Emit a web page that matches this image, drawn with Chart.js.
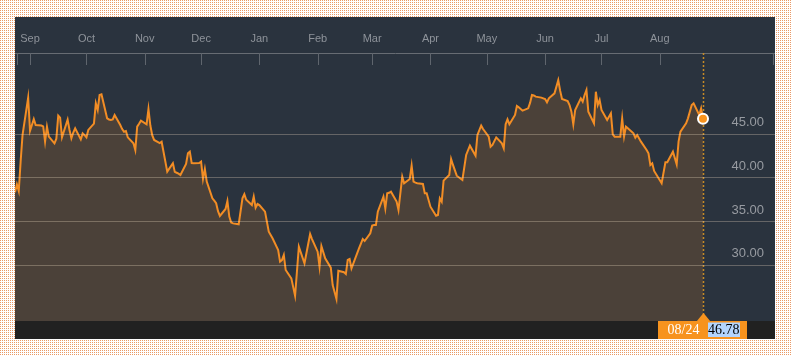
<!DOCTYPE html>
<html>
<head>
<meta charset="utf-8">
<script src="https://cdn.jsdelivr.net/npm/chart.js@4.4.1/dist/chart.umd.min.js"></script>
<style>
html,body{margin:0;padding:0;}
body{width:791px;height:355px;overflow:hidden;position:relative;
  background-color:#e99a66;
  background-image:linear-gradient(90deg, transparent 1px, #ffffff 1px), linear-gradient(180deg, transparent 1px, #ffffff 1px);
  background-size:2px 2px;}
#wrap{position:absolute;left:15px;top:17px;width:760px;height:322px;background:#2a333e;}
canvas{display:block;}
</style>
</head>
<body>
<div id="wrap"><canvas id="c" width="760" height="322"></canvas></div>
<script>
// Day offsets counted from the first session, 2015-08-24 (Mon)
const START_DATE = '2015-08-24';
const tradingDays = [
  0,1,2,3,4,
  7,8,9,10,11,
  14,15,16,17,18,
  21,22,23,24,25,
  28,29,30,31,32,
  35,36,37,38,39,
  42,43,44,45,46,
  49,50,51,52,53,
  56,57,58,59,60,
  63,64,65,66,67,
  70,71,72,73,74,
  77,78,81,
  84,85,86,87,88,
  91,92,93,94,95,
  98,99,100,101,102,
  105,106,107,108,109,
  112,113,114,115,116,
  119,121,122,123,
  126,127,128,129,130,
  133,135,137,
  140,141,142,143,144,
  147,149,151,
  154,157,158,
  161,162,163,165,
  168,169,171,172,
  175,176,177,178,179,
  182,183,185,186,
  189,190,191,192,193,
  196,197,198,199,200,
  203,204,206,207,
  210,211,212,213,214,
  217,218,219,221,
  224,225,226,227,228,
  231,232,233,235,
  238,240,242,
  245,246,248,249,
  252,253,254,256,
  259,260,261,262,263,
  266,267,268,270,
  273,274,275,276,277,
  280,282,283,284,
  287,289,290,291,
  294,295,296,297,298,
  301,302,303,304,305,
  308,309,310,311,312,
  315,317,318,319,
  322,323,324,325,326,
  329,330,331,333,
  336,337,338,339,340,
  344,346,347,
  350,352,353,354,
  357,358,360,361,
  364,365,366
];
const closePrices = [
  38.36,39.27,38.5,41.9,44.9,
  49.2,45.4,46.06,46.75,46.06,
  46.0,45.9,44.15,45.87,44.73,
  43.97,44.5,47.13,46.9,44.65,
  46.67,45.5,44.54,45.2,45.68,
  44.42,45.1,44.9,44.65,45.5,
  46.22,48.55,47.78,49.5,49.58,
  46.83,46.7,46.64,46.7,47.21,
  46.06,45.6,45.3,45.38,44.65,
  43.97,43.2,45.87,46.2,46.56,
  46.14,47.9,46.0,44.9,44.35,
  44.0,44.15,40.72,
  41.68,40.7,40.6,40.5,40.34,
  41.6,42.82,43.0,41.7,41.68,
  41.7,41.86,39.88,41.03,39.58,
  37.67,37.4,37.1,36.2,35.65,
  36.45,37.36,35.57,34.9,34.8,
  34.7,37.67,38.13,37.5,
  36.9,37.86,36.6,37.02,36.9,
  36.14,33.85,33.09,
  31.75,30.42,30.6,31.18,29.46,
  28.5,26.5,32.13,
  30.23,33.58,33.0,
  31.56,29.84,32.2,30.8,
  29.73,27.74,26.14,29.38,
  29.2,29.0,30.61,30.72,29.65,
  31.37,31.94,33.0,32.78,
  33.66,34.54,34.6,34.6,36.14,
  37.86,36.52,38.24,38.3,38.43,
  37.29,36.33,40.15,39.39,
  39.88,41.41,39.58,39.46,39.4,
  39.31,38.24,38.24,36.71,
  35.68,35.76,37.67,37.29,39.69,
  40.34,42.17,41.49,40.26,
  39.77,42.63,43.7,
  42.55,44.92,45.99,45.6,
  44.73,43.58,43.78,44.65,
  43.97,43.4,46.14,46.71,46.14,
  47.21,48.24,48.09,47.71,
  47.97,48.6,49.5,49.45,49.31,
  49.2,49.04,48.66,49.12,
  49.69,51.2,50.0,49.04,
  48.81,48.35,47.59,46.14,47.78,
  49.12,48.74,49.5,50.07,47.59,
  46.26,49.88,48.35,48.93,47.78,
  46.64,47.4,45.0,44.73,
  44.73,46.83,44.73,45.87,45.68,
  45.11,44.62,44.92,44.16,
  43.2,42.82,41.48,41.68,40.8,
  39.39,41.79,41.79,
  43.01,41.56,44.16,45.3,
  46.26,46.83,48.35,48.55,
  47.21,47.97,46.78
];
// Month starts as day offsets from START_DATE
const monthTicks  = [8, 38, 69, 99, 130, 161, 190, 221, 251, 282, 312, 343];
const monthLabels = ['Sep','Oct','Nov','Dec','Jan','Feb','Mar','Apr','May','Jun','Jul','Aug'];
const priceTicks  = [30, 35, 40, 45];

const n = tradingDays.length;
const lastDay = tradingDays[n - 1];
const lastPrice = closePrices[n - 1];
const lastDate = new Date(Date.parse(START_DATE + 'T00:00:00Z') + lastDay * 86400000);
const dateLabel = String(lastDate.getUTCMonth() + 1).padStart(2, '0') + '/' + String(lastDate.getUTCDate()).padStart(2, '0');

const points = tradingDays.map((d, i) => ({ x: d, y: closePrices[i] }));

const decor = {
  id: 'decor',
  beforeDatasetsDraw(chart) {
    const { ctx, chartArea, scales: { x } } = chart;
    ctx.save();
    ctx.strokeStyle = '#5f656d';
    ctx.lineWidth = 1;
    const xs = monthTicks.map(d => x.getPixelForValue(d));
    xs.push(chartArea.left + 1.5, chartArea.right - 2.5);
    xs.forEach(px => {
      const a = Math.round(px) + 0.5;
      ctx.beginPath();
      ctx.moveTo(a, chartArea.top);
      ctx.lineTo(a, chartArea.top + 12);
      ctx.stroke();
    });
    const lx = Math.round(x.getPixelForValue(lastDay)) + 0.5;
    ctx.strokeStyle = '#c58a26';
    ctx.lineWidth = 1.5;
    ctx.setLineDash([2, 2]);
    ctx.beginPath();
    ctx.moveTo(lx, chartArea.top);
    ctx.lineTo(lx, chartArea.bottom);
    ctx.stroke();
    ctx.restore();
  },
  afterDraw(chart) {
    const { ctx, chartArea, width, height, scales: { x } } = chart;
    const px = Math.round(x.getPixelForValue(lastDay)) + 0.5;
    const b = chartArea.bottom;
    ctx.save();
    ctx.fillStyle = '#212121';
    ctx.fillRect(0, b, width, height - b);
    ctx.fillStyle = '#f7931e';
    ctx.fillRect(Math.round(px - 45.5), b, 89, height - b);
    ctx.beginPath();
    ctx.moveTo(px - 7, b + 0.5);
    ctx.lineTo(px, b - 8);
    ctx.lineTo(px + 7, b + 0.5);
    ctx.closePath();
    ctx.fill();
    ctx.font = '14px "Liberation Serif"';
    ctx.textBaseline = 'middle';
    ctx.textAlign = 'center';
    ctx.fillStyle = '#ffffff';
    ctx.fillText(dateLabel, px - 20, b + 9.5);
    const vt = lastPrice.toFixed(2);
    const w = ctx.measureText(vt).width;
    ctx.fillStyle = '#b3d4fc';
    ctx.fillRect(Math.round(px + 4), b + 1.5, Math.round(w), 14.5);
    ctx.fillStyle = '#000000';
    ctx.textAlign = 'left';
    ctx.fillText(vt, Math.round(px + 4), b + 9.5);
    ctx.restore();
  }
};

new Chart(document.getElementById('c'), {
  type: 'line',
  data: {
    datasets: [{
      data: points,
      borderColor: '#f28d25',
      borderWidth: 2,
      fill: 'start',
      backgroundColor: 'rgba(247,144,30,0.16)',
      tension: 0,
      pointRadius: c => (c.dataIndex === n - 1 ? 5 : 0),
      pointHoverRadius: 0,
      pointBackgroundColor: '#f7931e',
      pointBorderColor: '#ffffff',
      pointBorderWidth: 2
    }]
  },
  options: {
    responsive: false,
    animation: false,
    devicePixelRatio: 1,
    events: [],
    layout: { autoPadding: false, padding: { left: 0, right: 0, top: 0, bottom: 18 } },
    plugins: { legend: { display: false }, tooltip: { enabled: false } },
    scales: {
      x: {
        type: 'linear',
        position: 'top',
        min: 0,
        max: 404.3,
        afterBuildTicks: s => { s.ticks = monthTicks.map(v => ({ value: v })); },
        afterFit: s => { s.height = 36; s.paddingLeft = 0; s.paddingRight = 0; },
        ticks: {
          callback: v => { const i = monthTicks.indexOf(v); return i >= 0 ? monthLabels[i] : ''; },
          autoSkip: false,
          maxRotation: 0,
          padding: 7,
          color: '#8e939a',
          font: { family: 'Liberation Sans', size: 11 }
        },
        grid: { drawOnChartArea: false, drawTicks: false },
        border: { color: '#676c73', width: 1 }
      },
      y: {
        type: 'linear',
        position: 'right',
        min: 23.62,
        max: 54.31,
        afterBuildTicks: s => { s.ticks = priceTicks.map(v => ({ value: v })); },
        afterFit: s => { s.width = 0; s.paddingTop = 0; s.paddingBottom = 0; },
        ticks: {
          mirror: true,
          padding: -11,
          labelOffset: -11.5,
          callback: v => Number(v).toFixed(2),
          color: '#979ba1',
          font: { family: 'Liberation Sans', size: 13 }
        },
        grid: { color: 'rgba(255,235,210,0.28)', lineWidth: 1, drawTicks: false, z: 1 },
        border: { display: false }
      }
    }
  },
  plugins: [decor]
});
</script>
</body>
</html>
